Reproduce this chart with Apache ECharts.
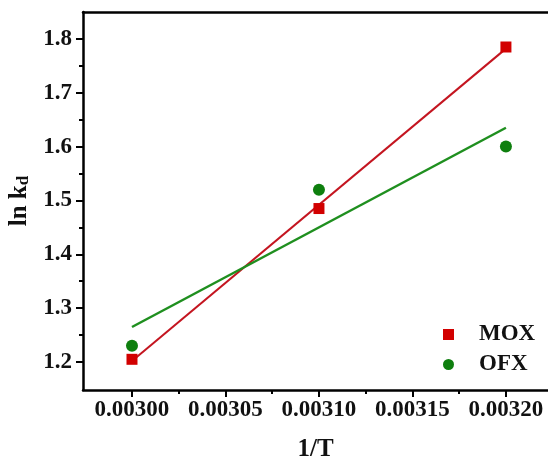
<!DOCTYPE html>
<html>
<head>
<meta charset="utf-8">
<script src="https://cdn.jsdelivr.net/npm/echarts@6/dist/echarts.min.js"></script>
<style>html,body{margin:0;padding:0;background:#fff;}#c{width:548px;height:461px;}</style>
</head>
<body>
<div id="c"></div>
<script>
// Data
const xValues = [0.00300, 0.00310, 0.00320];
const moxValues = [1.205, 1.485, 1.785];
const ofxValues = [1.230, 1.520, 1.600];
// fitted line endpoints
const fitX = [0.00300, 0.00320];
const moxFit = [1.202, 1.782];
const ofxFit = [1.265, 1.635];
// tick values
const xTicks = [0.00300, 0.00305, 0.00310, 0.00315, 0.00320];
const xMinorTicks = [0.003025, 0.003075, 0.003125, 0.003175];
const yTicks = [1.2, 1.3, 1.4, 1.5, 1.6, 1.7, 1.8];
const yMinorTicks = [1.25, 1.35, 1.45, 1.55, 1.65, 1.75];
const seriesNames = ['MOX', 'OFX'];

const FONT = "'Times New Roman', 'Liberation Serif', serif";
const XMIN = 0.0029738, XMAX = 0.0032225, YMIN = 1.148, YMAX = 1.850;

const chart = echarts.init(document.getElementById('c'));
const pair = (xs, ys) => xs.map((x, i) => [x, ys[i]]);

chart.setOption({
  animation: false,
  backgroundColor: '#fff',
  grid: { left: 83, top: 12, right: 0, bottom: 71, containLabel: false, outerBoundsMode: 'none' },
  legend: {
    orient: 'vertical', left: 438, top: 318, itemGap: 7,
    itemWidth: 11, itemHeight: 11,
    textStyle: { fontFamily: FONT, fontWeight: 'bold', fontSize: 23, color: '#111', padding: [0, 0, 0, 20] },
    data: [
      { name: seriesNames[0], icon: 'rect', itemStyle: { color: '#D20000' } },
      { name: seriesNames[1], icon: 'circle', itemStyle: { color: '#0E7F0E' } }
    ]
  },
  xAxis: [
    {
      type: 'value', min: XMIN, max: XMAX, position: 'bottom', offset: 0,
      name: '1/T', nameLocation: 'middle', nameGap: 47,
      nameTextStyle: { fontFamily: FONT, fontWeight: 'bold', fontSize: 25, color: '#111' },
      axisLine: { show: true, onZero: false, lineStyle: { color: '#000', width: 2.5 } },
      axisTick: { show: true, inside: false, length: 7, lineStyle: { color: '#000', width: 2 }, customValues: xTicks },
      axisLabel: { show: true, margin: 9, customValues: xTicks, formatter: v => v.toFixed(5),
        fontFamily: FONT, fontWeight: 'bold', fontSize: 23, color: '#111' },
      splitLine: { show: false }
    },
    {
      type: 'value', min: XMIN, max: XMAX, position: 'bottom', offset: 0,
      axisLine: { show: false, onZero: false },
      axisTick: { show: true, inside: false, length: 4, lineStyle: { color: '#000', width: 2 }, customValues: xMinorTicks },
      axisLabel: { show: false },
      splitLine: { show: false }
    },
    {
      type: 'value', min: XMIN, max: XMAX, position: 'top', offset: 0,
      axisLine: { show: true, onZero: false, lineStyle: { color: '#000', width: 2.5 } },
      axisTick: { show: false }, axisLabel: { show: false }, splitLine: { show: false }
    }
  ],
  yAxis: [
    {
      type: 'value', min: YMIN, max: YMAX, position: 'left', offset: 0,
      name: '{a|ln k}{b|d}', nameLocation: 'middle', nameGap: 47, nameRotate: 90,
      nameTextStyle: {
        rich: {
          a: { fontFamily: FONT, fontWeight: 'bold', fontSize: 25, color: '#111' },
          b: { fontFamily: FONT, fontWeight: 'bold', fontSize: 17, color: '#111', padding: [9, 0, 0, 0] }
        }
      },
      axisLine: { show: true, onZero: false, lineStyle: { color: '#000', width: 2.5 } },
      axisTick: { show: true, inside: false, length: 7, lineStyle: { color: '#000', width: 2 }, customValues: yTicks },
      axisLabel: { show: true, margin: 11, customValues: yTicks, formatter: v => v.toFixed(1),
        fontFamily: FONT, fontWeight: 'bold', fontSize: 23, color: '#111' },
      splitLine: { show: false }
    },
    {
      type: 'value', min: YMIN, max: YMAX, position: 'left', offset: 0,
      axisLine: { show: false, onZero: false },
      axisTick: { show: true, inside: false, length: 4, lineStyle: { color: '#000', width: 2 }, customValues: yMinorTicks },
      axisLabel: { show: false },
      splitLine: { show: false }
    }
  ],
  series: [
    {
      name: 'MOX fit', type: 'line', data: pair(fitX, moxFit), showSymbol: false, symbol: 'none',
      lineStyle: { color: '#C41520', width: 2 }, z: 2, silent: true
    },
    {
      name: 'OFX fit', type: 'line', data: pair(fitX, ofxFit), showSymbol: false, symbol: 'none',
      lineStyle: { color: '#1F8F1F', width: 2.5 }, z: 2, silent: true
    },
    {
      name: seriesNames[0], type: 'scatter', data: pair(xValues, moxValues),
      symbol: 'rect', symbolSize: 11, itemStyle: { color: '#D20000', opacity: 1 }, z: 3
    },
    {
      name: seriesNames[1], type: 'scatter', data: pair(xValues, ofxValues),
      symbol: 'circle', symbolSize: 12, itemStyle: { color: '#0E7F0E', opacity: 1 }, z: 3
    }
  ]
});
</script>
</body>
</html>
